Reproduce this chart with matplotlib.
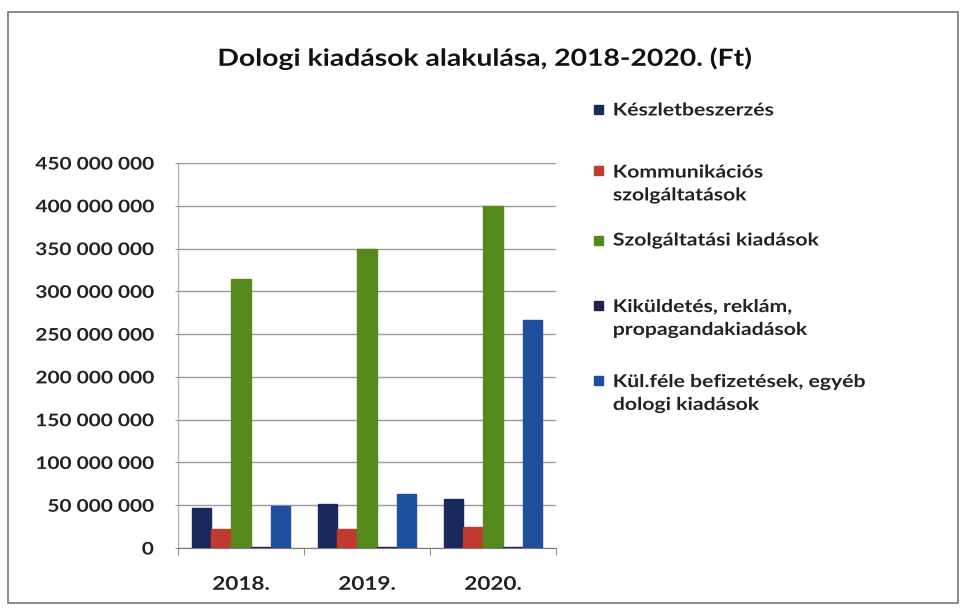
import matplotlib
matplotlib.use("Agg")
import matplotlib.pyplot as plt
import numpy as np
from matplotlib.ticker import FuncFormatter
from matplotlib.patches import Rectangle
from matplotlib.patheffects import AbstractPathEffect
from matplotlib.transforms import Affine2D

years = ["2018.", "2019.", "2020."]
series = [
    "Készletbeszerzés",
    "Kommunikációs\nszolgáltatások",
    "Szolgáltatási kiadások",
    "Kiküldetés, reklám,\npropagandakiadások",
    "Kül.féle befizetések, egyéb\ndologi kiadások",
]
keszlet = [47_000_000, 52_000_000, 57_000_000]
kommunikacio = [22_000_000, 22_000_000, 24_000_000]
szolgaltatas = [314_000_000, 350_000_000, 400_000_000]
kikuldetes = [1_500_000, 1_500_000, 1_500_000]
kulfele = [49_000_000, 63_000_000, 266_000_000]
values = [keszlet, kommunikacio, szolgaltatas, kikuldetes, kulfele]
colors = ["#18295c", "#c23a2e", "#55891c", "#2b1d4d", "#1f4f9e"]


class Stretch(AbstractPathEffect):
    """Stretch glyphs horizontally (the reference is a horizontally widened scan)."""
    def __init__(self, sx=1.2, anchor="left"):
        super().__init__()
        self.sx = sx
        self.anchor = anchor

    def draw_path(self, renderer, gc, tpath, affine, rgbFace=None):
        ext = tpath.get_extents()
        a = {"left": ext.x0, "right": ext.x1, "center": 0.5 * (ext.x0 + ext.x1)}[self.anchor]
        t = Affine2D().translate(-a, 0).scale(self.sx, 1).translate(a, 0) + affine
        renderer.draw_path(gc, tpath, t, rgbFace)


SX = 1.2
plt.rcParams['font.family'] = ['Lato', 'DejaVu Sans']

fig = plt.figure(figsize=(9.64, 6.09), dpi=100)
fig.patch.set_facecolor("white")
fig.patches.append(Rectangle((8/964, 6/609), 950/964, 591/609, transform=fig.transFigure,
                             fill=False, edgecolor="#777777", linewidth=1.2))

ax = fig.add_axes([178/964, 1-548/609, 378/964, 385/609])
x = np.arange(len(years))
w = 0.157
for i, (vals, c) in enumerate(zip(values, colors)):
    ax.bar(x + (i - 2) * w, vals, width=w, color=c, edgecolor=c, zorder=3)

ax.set_xlim(-0.5, 2.5)
ax.set_ylim(0, 450_000_000)
ax.set_yticks(np.arange(0, 450_000_001, 50_000_000))
ax.yaxis.set_major_formatter(FuncFormatter(lambda v, p: f"{int(v):,}".replace(",", " ")))
ax.grid(axis="y", color="#999999", linewidth=1.0, zorder=0)
ax.set_xticks(x)
ax.set_xticklabels(years)
ax.set_xticks([-0.5, 0.5, 1.5, 2.5], minor=True)
ax.tick_params(axis="x", which="major", length=0, pad=20, labelsize=13.5)
ax.tick_params(axis="x", which="minor", length=5, color="#777777")
ax.tick_params(axis="y", length=4, direction="inout", color="#999999", pad=15.5, labelsize=12.5)
for lbl in ax.get_xticklabels():
    lbl.set_fontweight("bold")
    lbl.set_color("#222222")
    lbl.set_path_effects([Stretch(SX, "center")])
for lbl in ax.get_yticklabels():
    lbl.set_fontweight("bold")
    lbl.set_color("#222222")
    lbl.set_path_effects([Stretch(SX, "right")])
for s in ["top", "right"]:
    ax.spines[s].set_visible(False)
ax.spines["left"].set_color("#aaaaaa")
ax.spines["bottom"].set_color("#777777")

fig.text(485/964, 1-58/609, "Dologi kiadások alakulása, 2018-2020. (Ft)", ha="center", va="center",
         fontsize=17, fontweight="bold", color="#111111",
         path_effects=[Stretch(SX, "center")])

# legend (Excel-style, placed manually)
leg_y = [110, 183.5, 240, 318, 393]   # vertical centres of entries (px from top)
sq = 9
for name, c, yc in zip(series, colors, leg_y):
    nlines = name.count("\n") + 1
    first = yc - (nlines - 1) * 12.5
    fig.patches.append(Rectangle((594/964, 1-(first + sq/2)/609), sq/964, sq/609,
                                 transform=fig.transFigure, facecolor=c, edgecolor=c))
    fig.text(613/964, 1-yc/609, name, ha="left", va="center", fontsize=12.7,
             fontweight="bold", color="#222222", linespacing=1.42,
             path_effects=[Stretch(SX, "left")])

fig.savefig("out.png", dpi=100)
